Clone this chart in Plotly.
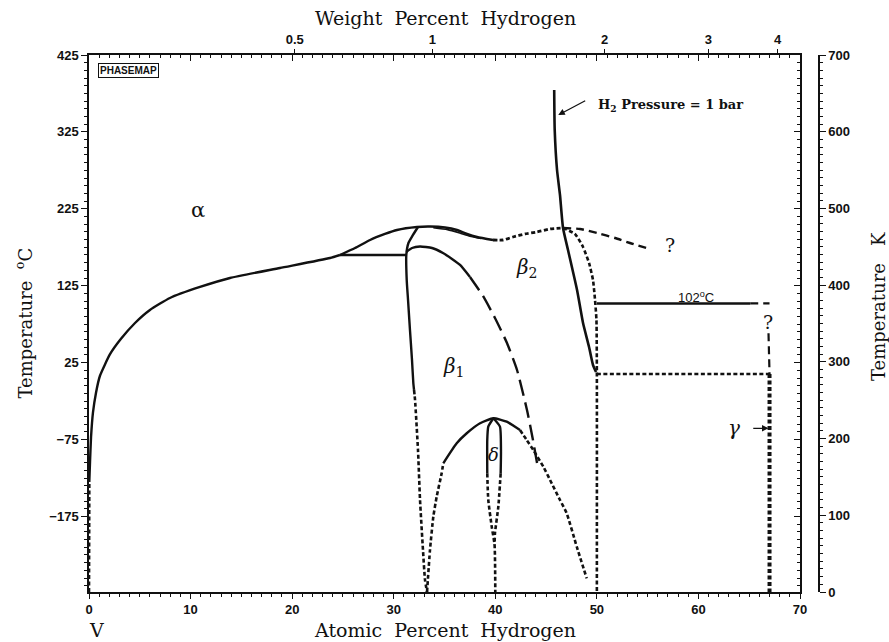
import plotly.graph_objects as go

# ---------------- axis tick data ----------------
H_MASS = 1.008
V_MASS = 50.9415
WT_TICKS = [0.5, 1, 2, 3, 4]
WT_LABELS = ["0.5", "1", "2", "3", "4"]
AT_TICKS = [0, 10, 20, 30, 40, 50, 60, 70]
TC_TICKS = [-175, -75, 25, 125, 225, 325, 425]
TK_TICKS = [0, 100, 200, 300, 400, 500, 600, 700]
T_MIN, T_MAX = -273.15, 425

# ---------------- phase boundaries (at.% H, deg C) ----------------
ALPHA_LOW_X = [0.0, 0.03]
ALPHA_LOW_T = [-273.15, -130]
ALPHA_X = [0.03, 0.1, 0.2, 0.39, 0.69, 1.08, 2.07, 3.15, 4.53, 6.0, 7.97, 10.93, 13.88, 18.8, 23.73, 24.71]
ALPHA_T = [-130, -104, -72, -40, -14, 8, 36, 56, 76.6, 93.5, 109.1, 123.4, 135.1, 148.1, 161.1, 165]

EUTECTOID_X = [24.71, 31.24]
EUTECTOID_T = [165, 165]

TOP_X = [24.71, 26.19, 27.67, 29.14, 30.32, 32.29, 33.57, 35.05, 36.23, 37.22, 38.2, 39.78]
TOP_T = [165, 174.1, 184.5, 192.3, 197.5, 201.4, 202, 200.8, 197.5, 192.3, 188.4, 184.5]
TOP_DOT_X = [39.78, 40.76, 41.74, 42.93, 44.11, 45.39, 46.67]
TOP_DOT_T = [184.5, 184.5, 188.4, 192.3, 194.9, 198.8, 200.1]
TOP_DASH_X = [46.67, 48.34, 50.01, 51.79, 53.26, 55.23]
TOP_DASH_T = [200.1, 198.8, 193.6, 187.1, 180.6, 172.8]
INNER_X = [33.9, 35.3, 36.5, 37.5, 38.6]
INNER_T = [200.5, 198.0, 193.6, 189.5, 186.5]

BETA_L_X = [32.39, 31.8, 31.45, 31.24, 31.28, 31.41, 31.6, 31.8, 31.93, 32.0]
BETA_L_T = [201.4, 189, 180.6, 165, 132.5, 106.5, 67.5, 28.5, -1.4, -10.5]
BETA_L_DOT_X = [32.0, 32.1, 32.39, 32.59, 32.88, 33.08, 33.28]
BETA_L_DOT_T = [-10.5, -23.5, -88.5, -153.5, -218.5, -257.5, -273.15]

BETA1_X = [31.24, 31.8, 32.59, 33.77, 34.85, 35.74, 36.53, 37.51]
BETA1_T = [168.9, 174.1, 176, 174.1, 167.6, 159.8, 152, 136.4]
BETA1_DASH_X = [37.51, 38.79, 39.97, 41.15, 42.14, 43.12, 43.71, 44.11]
BETA1_DASH_T = [136.4, 111.7, 83.1, 50.6, 15.5, -36.5, -75.5, -105.4]

DOME_X = [34.88, 36.2, 37.19, 38.5, 39.81, 41.12, 42.43]
DOME_T = [-105.8, -79.8, -66.8, -53.8, -47.3, -51.7, -62.5]
DOME_L_X = [33.28, 33.57, 33.9, 34.23, 34.72, 34.88]
DOME_L_T = [-273.15, -218.5, -175.2, -149.2, -118.8, -105.8]
DOME_R_X = [42.43, 43.09, 43.74, 44.73, 45.39, 46.37, 47.03, 48.02, 49.0]
DOME_R_T = [-62.5, -75.5, -88.5, -110.2, -127.5, -153.5, -170.8, -214.2, -255.3]

DELTA_L_X = [39.81, 39.31, 39.21, 39.21]
DELTA_L_T = [-47.3, -58.2, -75.5, -118.8]
DELTA_R_X = [39.81, 40.46, 40.56, 40.53]
DELTA_R_T = [-47.3, -58.2, -88.5, -118.8]
DELTA_L_DOT_X = [39.21, 39.31, 39.65, 39.93, 40.0]
DELTA_L_DOT_T = [-118.8, -153.5, -188.2, -212, -273.15]
DELTA_R_DOT_X = [40.53, 40.3, 39.97, 39.93]
DELTA_R_DOT_T = [-118.8, -162.2, -196.4, -212]

H2_X = [45.8, 45.85, 46.08, 46.37, 46.67, 47.16, 48.05, 48.64, 49.23, 49.62, 49.92]
H2_T = [379.5, 327.5, 275.5, 243, 200.1, 171.5, 119.5, 76.6, 45.4, 22, 12.9]

BETA2_R_X = [46.67, 47.85, 48.64, 49.23, 49.62, 49.82, 49.96, 50.0, 50.0]
BETA2_R_T = [200.1, 192.3, 175.4, 154.6, 132.5, 106.5, 80.5, 12.9, -273.15]

L102_X = [50.0, 65.1]
L102_T = [102, 102]
L102_DASH_X = [65.1, 67.0]
L102_DASH_T = [102, 102]
LOW_X = [50.0, 67.0]
LOW_T = [10.3, 10.3]
GAMMA_X = [67.0, 67.0]
GAMMA_T = [10.3, -273.15]
GAMMA_UP_X = [66.9, 67.0]
GAMMA_UP_T = [63.2, 10.3]

# ---------------- figure ----------------
INK = "#111111"
DOT = "4px,2.5px"
DASH = "8px,5px"
LONGDASH = "16px,7px"


def wt_to_at(w):
    nh = w / H_MASS
    nv = (100 - w) / V_MASS
    return 100 * nh / (nh + nv)


fig = go.Figure()


def add(x, y, dash="solid", width=2.4):
    fig.add_trace(go.Scatter(x=x, y=y, mode="lines", showlegend=False, hoverinfo="skip",
                             line=dict(color=INK, width=width, dash=dash, shape="spline", smoothing=0.5)))


add(ALPHA_LOW_X, ALPHA_LOW_T, DOT, 2.6)
add(ALPHA_X, ALPHA_T)
add(EUTECTOID_X, EUTECTOID_T)
add(TOP_X, TOP_T)
add(INNER_X, INNER_T, width=1.6)
add(TOP_DOT_X, TOP_DOT_T, DOT, 2.8)
add(TOP_DASH_X, TOP_DASH_T, DASH, 2.4)
add(BETA_L_X, BETA_L_T)
add(BETA_L_DOT_X, BETA_L_DOT_T, DOT, 2.6)
add(BETA1_X, BETA1_T)
add(BETA1_DASH_X, BETA1_DASH_T, LONGDASH, 2.4)
add(DOME_X, DOME_T)
add(DOME_L_X, DOME_L_T, DOT, 2.6)
add(DOME_R_X, DOME_R_T, DOT, 2.6)
add(DELTA_L_X, DELTA_L_T)
add(DELTA_R_X, DELTA_R_T)
add(DELTA_L_DOT_X, DELTA_L_DOT_T, DOT, 2.6)
add(DELTA_R_DOT_X, DELTA_R_DOT_T, DOT, 2.6)
add(H2_X, H2_T, width=2.6)
add(BETA2_R_X, BETA2_R_T, DOT, 2.6)
add(L102_X, L102_T)
add(L102_DASH_X, L102_DASH_T, DASH, 2.2)
add(LOW_X, LOW_T, DOT, 2.6)
add(GAMMA_X, GAMMA_T, DOT, 4)
add(GAMMA_UP_X, GAMMA_UP_T, DASH, 2.2)

# dummy traces so that the overlay axes are drawn
for xa, ya in [("x2", "y"), ("x3", "y"), ("x", "y2"), ("x", "y3")]:
    fig.add_trace(go.Scatter(x=[None], y=[None], xaxis=xa, yaxis=ya, showlegend=False, hoverinfo="skip"))

TICKFONT = dict(family="Liberation Sans", size=13, color=INK, weight="bold")
SERIF = "DejaVu Serif"
XDOM = [0, 711 / 780]

fig.update_layout(
    width=889, height=642,
    margin=dict(l=89, r=20, t=55, b=50, autoexpand=False),
    paper_bgcolor="white", plot_bgcolor="white",
    showlegend=False,
    xaxis=dict(domain=XDOM, range=[0, 70], tickvals=AT_TICKS, ticks="outside", ticklen=5, tickwidth=1.3,
               minor=dict(dtick=1, tick0=0, ticks="outside", ticklen=3, tickwidth=1),
               showline=True, linewidth=1.5, linecolor=INK, mirror=True, showgrid=False, zeroline=False,
               tickfont=TICKFONT, tickcolor=INK, automargin=False),
    xaxis2=dict(domain=XDOM, overlaying="x", side="top", anchor="y", range=[0, 70],
                tickvals=[wt_to_at(w) for w in WT_TICKS], ticktext=WT_LABELS,
                ticks="outside", ticklen=5, tickwidth=1.3, tickcolor=INK,
                showgrid=False, zeroline=False, showline=False, tickfont=TICKFONT, automargin=False),
    xaxis3=dict(domain=XDOM, overlaying="x", side="top", anchor="y", range=[0, 70],
                tickvals=AT_TICKS, ticks="inside", ticklen=6, tickwidth=1.3, tickcolor=INK,
                minor=dict(dtick=1, tick0=0, ticks="inside", ticklen=3, tickwidth=1),
                showticklabels=False, showgrid=False, zeroline=False, showline=False, automargin=False),
    yaxis=dict(range=[T_MIN, T_MAX], tickvals=TC_TICKS, ticks="outside", ticklen=6, tickwidth=1.3,
               minor=dict(tick0=25, dtick=10, ticks="outside", ticklen=3, tickwidth=1),
               showline=True, linewidth=1.5, linecolor=INK, mirror=True, showgrid=False, zeroline=False,
               tickfont=TICKFONT, tickcolor=INK, automargin=False),
    yaxis3=dict(overlaying="y", side="right", anchor="x", range=[T_MIN, T_MAX], tickvals=TC_TICKS,
                ticks="inside", ticklen=6, tickwidth=1.3, tickcolor=INK,
                minor=dict(tick0=25, dtick=10, ticks="inside", ticklen=3, tickwidth=1),
                showticklabels=False, showgrid=False, zeroline=False, showline=False, automargin=False),
    yaxis2=dict(overlaying="y", side="right", anchor="free", position=(819 - 89) / 780,
                range=[0, 700], tickvals=TK_TICKS, ticks="outside", ticklen=6, tickwidth=1.3, tickcolor=INK,
                minor=dict(tick0=0, dtick=10, ticks="outside", ticklen=3, tickwidth=1),
                showline=True, linewidth=1.5, linecolor=INK, showgrid=False, zeroline=False,
                tickfont=TICKFONT, automargin=False),
)

ann = []


def text(x, y, s, size=20, family=SERIF, **kw):
    kw.setdefault("xanchor", "center")
    ann.append(dict(x=x, y=y, text=s, showarrow=False, yanchor="middle",
                    font=dict(family=family, size=size, color=INK), **kw))


# phase labels
text(10.7, 223, "α", 21)
text(35.9, 19.4, "<i>β</i><sub>1</sub>", 20)
text(43.1, 148, "<i>β</i><sub>2</sub>", 20)
text(39.87, -95, "<i>δ</i>", 18)
text(63.5, -60, "<i>γ</i>", 20)
text(57.2, 178, "?", 19)
text(66.85, 78, "?", 19)
text(59.8, 110, "102<sup>o</sup>C", 13, family="Liberation Sans")
text(49.9, 360, "<b>H<sub>2</sub> Pressure = 1 bar</b>", 13, xanchor="left")
ann.append(dict(x=46.2, y=347, ax=49.0, ay=366.5, axref="x", ayref="y", xref="x", yref="y", text="",
                showarrow=True, arrowhead=2, arrowsize=1, arrowwidth=1.3, arrowcolor=INK))
ann.append(dict(x=66.9, y=-60.3, ax=65.25, ay=-60.3, axref="x", ayref="y", xref="x", yref="y", text="",
                showarrow=True, arrowhead=2, arrowsize=1, arrowwidth=1.3, arrowcolor=INK))
ann.append(dict(x=3.87, y=404.5, text="<b>PHASEMAP</b>", showarrow=False,
                font=dict(family="Liberation Sans", size=10, color=INK),
                bordercolor=INK, borderwidth=1, borderpad=1))


# axis titles
def ptext(x, y, s, size=19, angle=0):
    ann.append(dict(x=x, y=y, xref="paper", yref="paper", text=s, showarrow=False, textangle=angle,
                    xanchor="center", yanchor="middle",
                    font=dict(family=SERIF, size=size, color=INK)))


ptext((445.5 - 89) / 780, (592 - 18) / 537, "Weight  Percent  Hydrogen")
ptext((445 - 89) / 780, (592 - 630) / 537, "Atomic  Percent  Hydrogen")
ptext((96 - 89) / 780, (592 - 630) / 537, "V")
ptext((24 - 89) / 780, 0.5, "Temperature  <sup>o</sup>C", size=18, angle=-90)
ptext((878 - 89) / 780, (592 - 307) / 537, "Temperature   K", size=18, angle=-90)

fig.update_layout(annotations=ann)
fig.write_html("out.html", config={"displayModeBar": False},
               post_script="document.body.style.margin='0px';")
